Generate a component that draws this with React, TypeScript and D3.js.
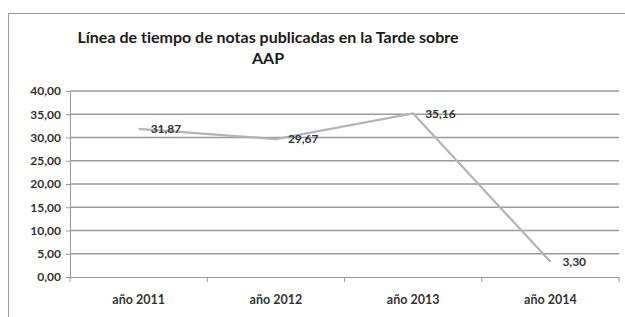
import React, { useRef, useEffect } from 'react'
import { select, scaleLinear, scaleBand, axisLeft, axisBottom, line, range } from 'd3'

const categories = ['año 2011', 'año 2012', 'año 2013', 'año 2014']
const values = [31.87, 29.67, 35.16, 3.3]
const yTicks = [0, 5, 10, 15, 20, 25, 30, 35, 40]
const titleLines = ['Línea de tiempo de notas publicadas  en la Tarde sobre', 'AAP']

const fmt = (v: number) => v.toFixed(2).replace('.', ',')

export default function App() {
    const svgRef = useRef<SVGSVGElement>(null)
    const width = 625
    const height = 317
    const margin = { top: 91, right: 6, bottom: 40, left: 70 }

    useEffect(() => {
        const svg = select(svgRef.current)
        svg.selectAll('*').remove()
        const font = "Lato, 'Open Sans', sans-serif"

        // chart frame
        svg.append('rect')
            .attr('x', 8.5).attr('y', 13.5)
            .attr('width', width + 10).attr('height', height)
            .attr('fill', 'white').attr('stroke', '#9a9a9a')

        const title = svg.append('text')
            .attr('text-anchor', 'middle')
            .attr('font-family', font)
            .attr('font-weight', 700)
            .attr('font-size', 16)
            .attr('fill', '#1a1a1a')
            .style('font-variant-ligatures', 'none')
        titleLines.forEach((t, i) => {
            title.append('tspan').attr('x', 268).attr('y', 43 + i * 21).text(t)
        })

        const x = scaleBand()
            .domain(categories)
            .range([margin.left, width - margin.right])
        const y = scaleLinear()
            .domain([0, 40])
            .range([height - margin.bottom, margin.top])

        // gridlines
        svg.append('g')
            .selectAll('line')
            .data(yTicks.slice(1))
            .join('line')
            .attr('x1', margin.left).attr('x2', width - margin.right)
            .attr('y1', d => y(d)).attr('y2', d => y(d))
            .attr('stroke', '#9a9a9a').attr('stroke-width', 1.3)

        const yAxis = svg.append('g')
            .attr('transform', `translate(${margin.left},0)`)
            .call(axisLeft(y).tickValues(yTicks).tickFormat(d => fmt(+d)).tickSize(4).tickPadding(5))
        yAxis.select('.domain').attr('stroke', '#9a9a9a')
        yAxis.selectAll('.tick line').attr('stroke', '#9a9a9a')
        yAxis.selectAll('text')
            .attr('font-family', font).attr('font-weight', 700)
            .attr('font-size', 12).attr('fill', '#333')

        const xAxis = svg.append('g')
            .attr('transform', `translate(0,${height - margin.bottom})`)
            .call(axisBottom(x).tickSize(0).tickPadding(18))
        xAxis.select('.domain').attr('stroke', '#9a9a9a')
        xAxis.selectAll('text')
            .attr('font-family', font).attr('font-weight', 700)
            .attr('font-size', 12.5).attr('fill', '#333')
        // category boundary ticks
        svg.append('g')
            .selectAll('line')
            .data(range(categories.length + 1))
            .join('line')
            .attr('x1', i => margin.left + i * x.step())
            .attr('x2', i => margin.left + i * x.step())
            .attr('y1', y(0)).attr('y2', y(0) + 5)
            .attr('stroke', '#9a9a9a')

        const cx = (d: string) => (x(d) ?? 0) + x.bandwidth() / 2
        const path = line<number>()
            .x((d, i) => cx(categories[i]))
            .y(d => y(d))
        svg.append('path')
            .datum(values)
            .attr('d', path)
            .attr('fill', 'none')
            .attr('stroke', '#b4b4b4')
            .attr('stroke-width', 2.2)

        svg.append('g')
            .selectAll('text')
            .data(values)
            .join('text')
            .attr('x', (d, i) => cx(categories[i]) + 12)
            .attr('y', d => y(d))
            .attr('dy', '0.35em')
            .attr('font-family', font).attr('font-weight', 700)
            .attr('font-size', 12).attr('fill', '#333')
            .text(d => fmt(d))
    }, [])

    return (
        <svg ref={svgRef} width={width} height={height}
            style={{ position: 'absolute', left: 0, top: 0, background: 'white' }}></svg>
    )
}
